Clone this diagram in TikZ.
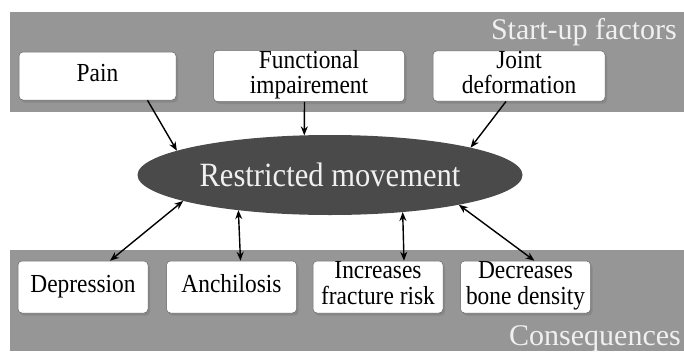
\documentclass[tikz,border=0pt]{standalone}
\usepackage{fontspec}
\setmainfont{Liberation Serif}
\newfontfamily\narrowserif[FakeStretch=0.9]{Liberation Serif}
\usetikzlibrary{shapes.geometric, arrows.meta, positioning, shadows}
\definecolor{bandgray}{RGB}{150,150,150}
\definecolor{coregray}{RGB}{74,74,74}
\definecolor{labelgray}{RGB}{240,240,240}

\begin{document}
\begin{tikzpicture}[
    x=1pt, y=-1pt,
    node distance=17pt,
    box/.style={rectangle, draw=black!60, line width=0.5pt, rounded corners=4pt, fill=white,
        drop shadow={shadow xshift=2pt, shadow yshift=-2.5pt, opacity=0.65},
        inner sep=0pt, align=center, font=\narrowserif\fontsize{26}{25.5}\selectfont,
        execute at begin node=\strut, execute at end node=\strut},
    cause/.style={box, minimum height=48pt},
    result/.style={box, minimum height=52pt, minimum width=130pt},
    core/.style={ellipse, fill=coregray, text=labelgray, minimum width=385pt, minimum height=80pt,
        inner sep=0pt, outer sep=0pt, font=\narrowserif\fontsize{34}{34}\selectfont},
    band/.style={fill=bandgray},
    tag/.style={text=labelgray, inner sep=0pt, font=\fontsize{30}{30}\selectfont},
    arrow/.style={-{Stealth[length=9pt,width=7pt]}, line width=1.4pt},
    both/.style={{Stealth[length=9pt,width=7pt]}-{Stealth[length=9pt,width=7pt]}, line width=1.4pt}
]
\useasboundingbox (0,0) rectangle (684,351);

% grey bands behind the two rows
\fill[band] (10,12) rectangle (684,112);
\fill[band] (10,250) rectangle (684,351);
\node[tag, anchor=base east] (toptag) at (677,39) {Start-up factors};
\node[tag, anchor=base east] (bottag) at (681,345) {Consequences};

% causes
\node[cause, minimum width=157pt] (pain) at (97.5,76) {Pain};
\node[cause, minimum width=191pt, right=37pt of pain] (fun) {Functional\\impairement};
\node[cause, minimum width=172pt, right=28pt of fun] (joint) {Joint\\deformation};

\node[core] (move) at (330,175) {Restricted movement};

% consequences
\node[result] (dep) at (83,287) {Depression};
\node[result, right=18pt of dep] (anch) {Anchilosis};
\node[result, right=16pt of anch] (frac) {Increases\\fracture risk};
\node[result, right=17pt of frac] (dens) {Decreases\\bone density};

\draw[arrow] ([xshift=50pt]pain.south) -- (move.171);
\draw[arrow] ([xshift=-4.5pt]fun.south) -- (move.123);
\draw[arrow] ([xshift=-13pt]joint.south) -- (move.11);
\draw[both] ([xshift=27pt]dep.north) -- (move.190);
\draw[both] ([xshift=9pt]anch.north) -- (move.201.5);
\draw[both] ([xshift=26pt]frac.north) -- (move.333);
\draw[both] ([xshift=9pt]dens.north) -- (move.347);
\end{tikzpicture}
\end{document}
